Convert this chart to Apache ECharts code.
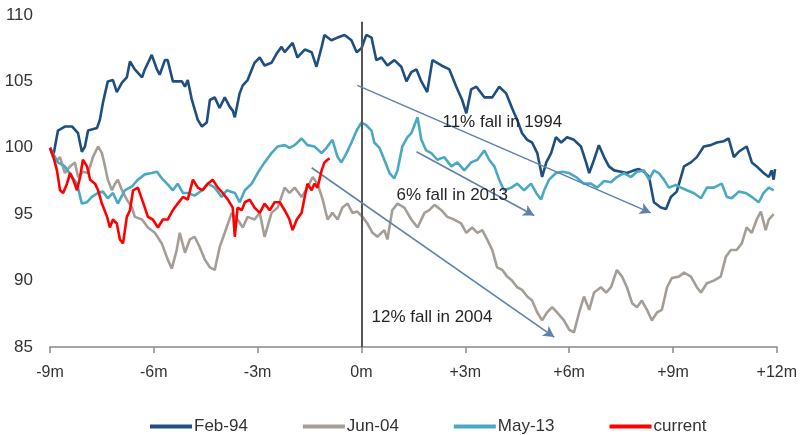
<!DOCTYPE html>
<html><head><meta charset="utf-8">
<script src="https://cdn.jsdelivr.net/npm/echarts@6/dist/echarts.min.js"></script>
<style>html,body{margin:0;padding:0;background:#fff}#c{width:800px;height:435px}</style>
</head><body><div id="c"></div>
<script>
// x in months relative to event (0m), y index level (start = 100)
const xTicks = [-9, -6, -3, 0, 3, 6, 9, 12];
const yTicks = [85, 90, 95, 100, 105, 110];
const seriesNames = ['Feb-94', 'Jun-04', 'May-13', 'current'];

const feb94 = [[-9.00,100.0],[-8.91,99.3],[-8.77,101.3],[-8.57,101.6],[-8.36,101.6],[-8.19,101.1],[-8.08,99.7],[-7.99,100.1],[-7.90,101.3],[-7.64,101.5],[-7.56,102.1],[-7.47,103.4],[-7.33,105.0],[-7.18,105.1],[-7.07,104.2],[-6.92,104.9],[-6.78,105.3],[-6.69,106.5],[-6.55,105.9],[-6.34,105.3],[-6.26,105.9],[-6.06,107.0],[-5.91,105.9],[-5.83,105.5],[-5.68,106.6],[-5.60,106.6],[-5.45,105.0],[-5.19,105.0],[-5.10,104.6],[-5.02,105.1],[-4.90,103.6],[-4.73,102.1],[-4.61,101.6],[-4.47,101.9],[-4.38,103.6],[-4.24,103.8],[-4.10,103.0],[-3.95,103.8],[-3.81,103.1],[-3.72,102.8],[-3.66,102.3],[-3.52,104.1],[-3.43,104.7],[-3.29,105.1],[-3.09,106.4],[-2.94,106.8],[-2.80,106.2],[-2.60,106.4],[-2.45,107.1],[-2.31,107.6],[-2.22,107.2],[-1.99,107.9],[-1.85,106.8],[-1.64,107.4],[-1.44,107.2],[-1.30,106.1],[-1.15,107.6],[-1.07,108.5],[-0.87,108.1],[-0.69,108.3],[-0.49,108.5],[-0.29,108.1],[-0.14,107.2],[0.00,107.5],[0.14,108.5],[0.29,108.3],[0.43,106.6],[0.58,106.8],[0.75,106.2],[0.95,106.6],[1.15,106.1],[1.30,105.0],[1.44,105.7],[1.59,105.9],[1.73,105.0],[1.90,104.2],[2.05,106.6],[2.31,106.2],[2.54,105.9],[2.74,104.6],[2.91,103.6],[3.03,102.6],[3.17,104.4],[3.32,104.6],[3.55,103.8],[3.78,103.8],[3.98,104.6],[4.18,104.1],[4.35,103.0],[4.50,102.1],[4.64,101.1],[4.79,100.6],[4.93,100.4],[5.08,99.6],[5.22,97.8],[5.34,98.9],[5.48,99.6],[5.62,100.8],[5.77,100.4],[5.94,100.8],[6.14,100.6],[6.34,100.1],[6.49,98.9],[6.58,98.1],[6.72,99.1],[6.86,100.2],[7.01,99.3],[7.15,98.6],[7.30,98.3],[7.50,98.2],[7.67,98.1],[7.87,98.3],[8.02,98.4],[8.16,98.2],[8.31,97.8],[8.45,95.9],[8.65,95.5],[8.80,95.4],[8.94,96.3],[9.11,96.7],[9.32,98.6],[9.52,98.9],[9.69,99.3],[9.89,100.1],[10.09,100.2],[10.27,100.4],[10.47,100.5],[10.61,100.7],[10.76,99.3],[10.90,99.7],[11.13,100.1],[11.28,98.9],[11.42,98.6],[11.62,98.1],[11.77,97.8],[11.85,98.3],[11.91,97.6],[11.95,98.4]];

const jun04 = [[-9.00,100.0],[-8.85,98.9],[-8.71,99.3],[-8.57,98.1],[-8.42,98.6],[-8.28,98.9],[-8.19,97.8],[-8.05,98.2],[-7.90,98.1],[-7.76,99.3],[-7.61,100.1],[-7.50,99.6],[-7.41,98.6],[-7.33,97.6],[-7.21,96.8],[-7.12,97.3],[-7.04,97.6],[-6.92,96.8],[-6.78,96.1],[-6.63,95.5],[-6.55,94.8],[-6.34,94.6],[-6.17,94.0],[-5.97,93.6],[-5.77,92.8],[-5.60,91.6],[-5.48,90.9],[-5.34,92.3],[-5.25,93.6],[-5.10,92.1],[-4.96,93.1],[-4.82,93.3],[-4.67,92.5],[-4.53,91.6],[-4.38,91.0],[-4.24,90.8],[-4.10,92.5],[-3.95,93.6],[-3.75,95.1],[-3.58,94.6],[-3.43,94.0],[-3.29,94.8],[-3.09,94.6],[-2.94,95.1],[-2.80,93.3],[-2.60,95.1],[-2.42,95.5],[-2.22,97.0],[-2.08,96.6],[-1.93,97.0],[-1.73,96.3],[-1.56,97.0],[-1.41,97.8],[-1.27,97.3],[-1.12,96.1],[-0.98,94.6],[-0.84,95.1],[-0.69,94.6],[-0.55,95.5],[-0.40,95.8],[-0.26,95.1],[-0.12,95.2],[0.03,94.8],[0.17,94.3],[0.32,93.6],[0.46,93.3],[0.66,93.8],[0.75,93.1],[0.89,95.3],[1.04,95.8],[1.24,95.5],[1.44,94.6],[1.62,94.0],[1.82,95.1],[1.96,95.3],[2.11,95.7],[2.31,95.3],[2.48,94.8],[2.68,94.6],[2.88,94.3],[3.03,93.6],[3.20,94.0],[3.35,93.6],[3.49,93.8],[3.63,93.1],[3.78,92.3],[3.92,91.0],[4.07,90.8],[4.21,90.3],[4.35,90.0],[4.50,89.5],[4.64,89.3],[4.79,88.8],[4.93,88.5],[5.08,87.6],[5.22,87.0],[5.36,87.6],[5.51,88.0],[5.65,87.6],[5.85,87.0],[6.00,86.3],[6.14,86.1],[6.29,87.6],[6.43,88.8],[6.58,87.8],[6.72,89.1],[6.92,89.5],[7.07,89.1],[7.21,89.5],[7.38,90.8],[7.53,90.3],[7.67,89.5],[7.82,88.3],[7.96,88.0],[8.10,88.5],[8.25,87.8],[8.39,87.0],[8.54,87.6],[8.68,87.8],[8.83,89.5],[8.97,90.2],[9.17,90.3],[9.32,90.6],[9.52,90.3],[9.69,89.5],[9.81,89.1],[9.98,89.8],[10.18,90.0],[10.38,90.3],[10.53,91.8],[10.67,92.3],[10.84,92.3],[10.99,92.8],[11.13,94.0],[11.28,93.6],[11.42,94.6],[11.54,95.2],[11.68,93.8],[11.77,94.6],[11.91,95.0]];

const may13 = [[-9.00,100.0],[-8.77,98.9],[-8.57,98.6],[-8.36,97.8],[-8.22,97.3],[-8.08,95.8],[-7.93,95.9],[-7.79,96.3],[-7.61,96.6],[-7.47,96.7],[-7.33,96.2],[-7.18,96.6],[-7.04,95.8],[-6.84,96.8],[-6.63,97.1],[-6.46,97.6],[-6.26,98.0],[-6.06,98.1],[-5.91,98.2],[-5.77,97.7],[-5.62,97.3],[-5.45,96.8],[-5.31,97.3],[-5.16,96.6],[-5.02,96.6],[-4.82,96.4],[-4.61,96.8],[-4.44,97.3],[-4.24,97.0],[-4.04,96.3],[-3.89,96.8],[-3.66,96.6],[-3.52,95.9],[-3.37,96.8],[-3.17,97.3],[-3.00,98.1],[-2.80,98.9],[-2.60,99.6],[-2.42,100.1],[-2.22,100.2],[-2.08,100.0],[-1.93,100.2],[-1.73,100.7],[-1.56,100.2],[-1.36,100.1],[-1.15,99.6],[-1.01,100.0],[-0.84,100.6],[-0.69,99.3],[-0.58,98.9],[-0.43,99.6],[-0.29,100.4],[-0.14,101.3],[0.00,101.9],[0.14,101.7],[0.29,101.3],[0.37,100.4],[0.52,100.0],[0.66,99.1],[0.81,98.1],[0.95,97.7],[1.04,98.3],[1.18,100.1],[1.33,100.8],[1.44,101.1],[1.62,102.3],[1.73,100.6],[1.87,99.8],[2.02,99.6],[2.19,99.1],[2.39,99.3],[2.60,98.6],[2.77,98.9],[2.97,98.3],[3.17,98.9],[3.35,99.1],[3.55,99.8],[3.69,99.1],[3.84,98.6],[3.98,97.6],[4.12,96.8],[4.33,97.0],[4.50,97.3],[4.70,96.8],[4.90,97.3],[5.05,96.6],[5.19,96.1],[5.28,96.8],[5.42,97.6],[5.62,98.1],[5.80,98.2],[6.00,98.1],[6.20,97.8],[6.43,97.3],[6.63,97.3],[6.81,97.0],[7.01,97.5],[7.21,97.4],[7.38,97.8],[7.58,98.1],[7.79,97.8],[7.96,98.2],[8.16,98.3],[8.31,97.6],[8.45,98.3],[8.59,98.1],[8.74,97.6],[8.88,97.0],[9.08,97.2],[9.23,97.0],[9.40,96.8],[9.60,96.6],[9.81,96.2],[9.98,97.0],[10.18,97.0],[10.41,97.3],[10.56,96.3],[10.70,96.2],[10.90,96.7],[11.10,96.6],[11.28,96.3],[11.48,95.9],[11.62,96.6],[11.77,97.0],[11.91,96.8]];

const current = [[-9.00,100.0],[-8.91,99.4],[-8.80,98.3],[-8.71,96.8],[-8.62,96.6],[-8.51,97.3],[-8.42,98.1],[-8.33,97.6],[-8.22,96.8],[-8.13,97.8],[-8.05,99.1],[-7.93,98.6],[-7.84,97.6],[-7.70,97.3],[-7.61,96.8],[-7.50,95.8],[-7.35,94.8],[-7.27,94.0],[-7.18,94.6],[-7.07,94.3],[-6.98,93.1],[-6.89,92.8],[-6.78,94.8],[-6.69,95.3],[-6.60,96.8],[-6.46,97.0],[-6.34,96.1],[-6.26,95.5],[-6.17,94.8],[-6.03,94.6],[-5.88,94.0],[-5.74,94.6],[-5.60,94.6],[-5.45,95.3],[-5.31,95.8],[-5.16,96.3],[-5.02,96.1],[-4.87,97.6],[-4.73,97.0],[-4.59,96.8],[-4.44,97.3],[-4.30,97.6],[-4.15,97.0],[-4.01,96.6],[-3.86,96.1],[-3.72,95.5],[-3.66,93.3],[-3.58,95.5],[-3.46,95.3],[-3.37,95.9],[-3.23,96.1],[-3.09,95.5],[-2.94,95.1],[-2.80,95.8],[-2.65,95.3],[-2.51,95.9],[-2.36,95.9],[-2.22,95.3],[-2.08,94.6],[-1.99,93.8],[-1.87,94.6],[-1.73,95.1],[-1.64,96.3],[-1.56,97.3],[-1.44,96.8],[-1.36,97.3],[-1.27,97.0],[-1.15,98.3],[-1.07,98.9],[-0.98,99.1],[-0.92,99.2]];

const eventLine = [[0, 85], [0, 109.5]];
const arrowStarts = [[-0.12, 104.7], [1.59, 99.7], [-1.44, 98.5]];
const arrowEnds = [[8.36, 95.1], [4.99, 94.9], [5.57, 85.75]];
const noteTexts = ['11% fall in 1994', '6% fall in 2013', '12% fall in 2004'];
const noteAnchors = [[2.34, 101.9], [1.01, 96.45], [0.29, 87.26]];

const colors = ['#1f4e80', '#a59e97', '#4aa9c2', '#ff0000'];
const datasets = [feb94, jun04, may13, current];
const FONT = '"Liberation Sans", Arial, sans-serif';

const chart = echarts.init(document.getElementById('c'), null, { renderer: 'canvas' });

const markData = [
  [{ coord: eventLine[0], symbol: 'none', lineStyle: { color: '#555', width: 2, type: 'solid' } },
   { coord: eventLine[1], symbol: 'none' }]
];
arrowStarts.forEach((s, i) => {
  markData.push([
    { coord: s, symbol: 'none', lineStyle: { color: '#5f82ad', width: 1.6, type: 'solid' } },
    { coord: arrowEnds[i], symbol: 'arrow', symbolSize: [9, 11] }
  ]);
});

const series = seriesNames.map((n, i) => ({
  name: n,
  type: 'line',
  data: datasets[i],
  showSymbol: false,
  symbol: 'none',
  lineStyle: { color: colors[i], width: 2.6 },
  itemStyle: { color: colors[i] },
  z: 2 + i
}));
series.push({
  name: 'annotations',
  type: 'line',
  data: [],
  z: 10,
  markLine: {
    silent: true,
    symbol: ['none', 'none'],
    label: { show: false },
    emphasis: { disabled: true },
    animation: false,
    data: markData
  }
});

chart.setOption({
  animation: false,
  backgroundColor: '#ffffff',
  textStyle: { fontFamily: FONT },
  grid: { left: 50, right: 22, top: 15, bottom: 88, containLabel: false },
  legend: {
    data: seriesNames.map((n, i) => ({ name: n, icon: 'rect', itemStyle: { color: colors[i] } })),
    left: 145, top: 413,
    itemWidth: 42, itemHeight: 4, itemGap: 55,
    textStyle: { fontSize: 17, color: '#333', fontFamily: FONT, padding: [0, 0, 0, -3] }
  },
  xAxis: {
    type: 'value', min: xTicks[0], max: xTicks[xTicks.length - 1], interval: 3,
    axisLine: { show: true, onZero: false, lineStyle: { color: '#a6a6a6', width: 2 } },
    axisTick: { show: true, length: 6, lineStyle: { color: '#8c8c8c', width: 1.5 } },
    splitLine: { show: false },
    axisLabel: {
      margin: 18, fontSize: 16, color: '#333', fontFamily: FONT,
      formatter: v => v === 0 ? '0m' : (v > 0 ? '+' + v + 'm' : v + 'm')
    }
  },
  yAxis: {
    type: 'value', min: yTicks[0], max: yTicks[yTicks.length - 1], interval: 5,
    axisLine: { show: false }, axisTick: { show: false }, splitLine: { show: false },
    axisLabel: { margin: 17, fontSize: 17, color: '#333', fontFamily: FONT }
  },
  series: series
});

const graphics = noteTexts.map((t, i) => {
  const p = chart.convertToPixel({ gridIndex: 0 }, noteAnchors[i]);
  return {
    type: 'text', x: p[0], y: p[1], silent: true, z: 100,
    style: { text: t, fontSize: 17, fontFamily: FONT, fill: '#262626', verticalAlign: 'middle', align: 'left' }
  };
});
chart.setOption({ graphic: graphics });
</script></body></html>
